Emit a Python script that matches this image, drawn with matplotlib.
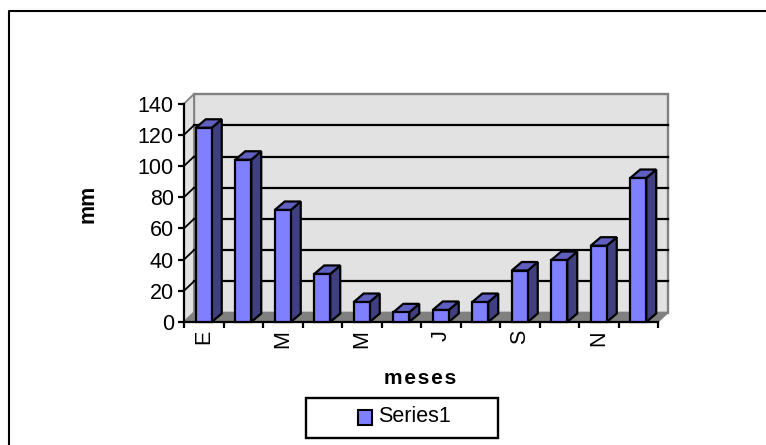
"""Monthly rainfall chart, old spreadsheet 3D column look."""

import matplotlib
matplotlib.use("Agg")
import matplotlib.pyplot as plt
from matplotlib.lines import Line2D
from matplotlib.patches import Polygon, Rectangle

W, H = 766, 445

months = ["E", "", "M", "", "M", "", "J", "", "S", "", "N", ""]
rain_mm = [124.5, 104, 71.8, 30.8, 12.8, 6.2, 7.7, 12.8, 33, 39.7, 48.9, 92.3]
y_ticks = [0, 20, 40, 60, 80, 100, 120, 140]

# pixel box of the front plane
X0, X1 = 184, 658
Y0, Y1 = 322, 103.6
DEPTH_X = 10 / ((X1 - X0) / 12)
DEPTH_Y = 9.5 / ((Y0 - Y1) / 140)
BAR_DEPTH_Y = 8.5 / ((Y0 - Y1) / 140)
BAR_W = 16 / ((X1 - X0) / 12)
LW = 1.6

plt.rcParams["font.family"] = ["Liberation Sans", "DejaVu Sans"]

fig = plt.figure(figsize=(W / 100, H / 100), dpi=100)

# outer chart frame: only top and left are inside the picture
fig.add_artist(Line2D([8.5 / W, 8.5 / W, 1], [0, 1 - 10.5 / H, 1 - 10.5 / H],
                      transform=fig.transFigure, color="black", lw=1.5))

ax = fig.add_axes([X0 / W, 1 - Y0 / H, (X1 - X0) / W, (Y0 - Y1) / H])
ax.set_xlim(-0.5, 11.5)
ax.set_ylim(0, 140)
for s in ["top", "right"]:
    ax.spines[s].set_visible(False)
ax.patch.set_visible(False)
ax.spines["left"].set_linewidth(LW)
ax.spines["bottom"].set_linewidth(LW)

# back wall, side wall and floor
xl, xr = -0.5, 11.5
ax.add_patch(Polygon([(xl + DEPTH_X, DEPTH_Y), (xr + DEPTH_X, DEPTH_Y),
                      (xr + DEPTH_X, 140 + DEPTH_Y), (xl + DEPTH_X, 140 + DEPTH_Y)],
                     fc="#e2e2e2", ec="#808080", lw=1.7, clip_on=False, zorder=1))
ax.add_patch(Polygon([(xl, 0), (xl + DEPTH_X, DEPTH_Y), (xl + DEPTH_X, 140 + DEPTH_Y), (xl, 140)],
                     fc="#e2e2e2", ec="#808080", lw=1.3, clip_on=False, zorder=1))
ax.add_patch(Polygon([(xl, 0), (xr, 0), (xr + DEPTH_X, DEPTH_Y), (xl + DEPTH_X, DEPTH_Y)],
                     fc="#808080", ec="#808080", lw=1, clip_on=False, zorder=1.5))

# gridlines on the back wall with a slanted stub on the side wall
for t in y_ticks[1:-1]:
    ax.plot([xl + DEPTH_X, xr + DEPTH_X], [t + DEPTH_Y, t + DEPTH_Y], color="black", lw=LW,
            clip_on=False, zorder=2)
    ax.plot([xl, xl + DEPTH_X], [t, t + DEPTH_Y], color="black", lw=1.3, clip_on=False, zorder=2)

# columns
for i, v in enumerate(rain_mm):
    left, right = i - BAR_W / 2, i + BAR_W / 2
    ax.add_patch(Polygon([(right, 0), (right + DEPTH_X, BAR_DEPTH_Y), (right + DEPTH_X, v + BAR_DEPTH_Y), (right, v)],
                         fc="#404080", ec="black", lw=LW, clip_on=False, zorder=3))
    ax.add_patch(Polygon([(left, v), (right, v), (right + DEPTH_X, v + BAR_DEPTH_Y), (left + DEPTH_X, v + BAR_DEPTH_Y)],
                         fc="#6060c0", ec="black", lw=LW, clip_on=False, zorder=3))
ax.bar(range(12), rain_mm, width=BAR_W, color="#8080ff", edgecolor="black", lw=LW, zorder=4, clip_on=False)

ax.set_xticks([i - 0.5 for i in range(13)])
ax.set_xticklabels([])
ax.tick_params(axis="x", length=4.3, width=LW, color="black")
for i, m in enumerate(months):
    if m:
        ax.text(i, -5.2, m, rotation=90, ha="center", va="top", fontsize=15.5, color="black")

ax.set_yticks(y_ticks)
ax.tick_params(axis="y", length=4.3, width=LW, labelsize=15.5, pad=3, color="black")

fig.text(88 / W, 1 - 203.5 / H, "mm", rotation=90, ha="center", va="center", fontsize=15.5, fontweight="bold")
fig.text(420 / W, 1 - 378 / H, "m e s e s".replace(" ", "\u200a"), ha="center", va="center",
         fontsize=15, fontweight="bold")

# legend box
fig.add_artist(Rectangle((306 / W, 1 - 438 / H), 192 / W, 40 / H, transform=fig.transFigure,
                         fc="white", ec="black", lw=1.7))
fig.add_artist(Rectangle((358 / W, 1 - 425 / H), 14 / W, 15 / H, transform=fig.transFigure,
                         fc="#8080ff", ec="black", lw=1.5))
fig.text(378 / W, 1 - 417 / H, "Series1", ha="left", va="center", fontsize=15.5)

fig.savefig("out.png", dpi=100)
